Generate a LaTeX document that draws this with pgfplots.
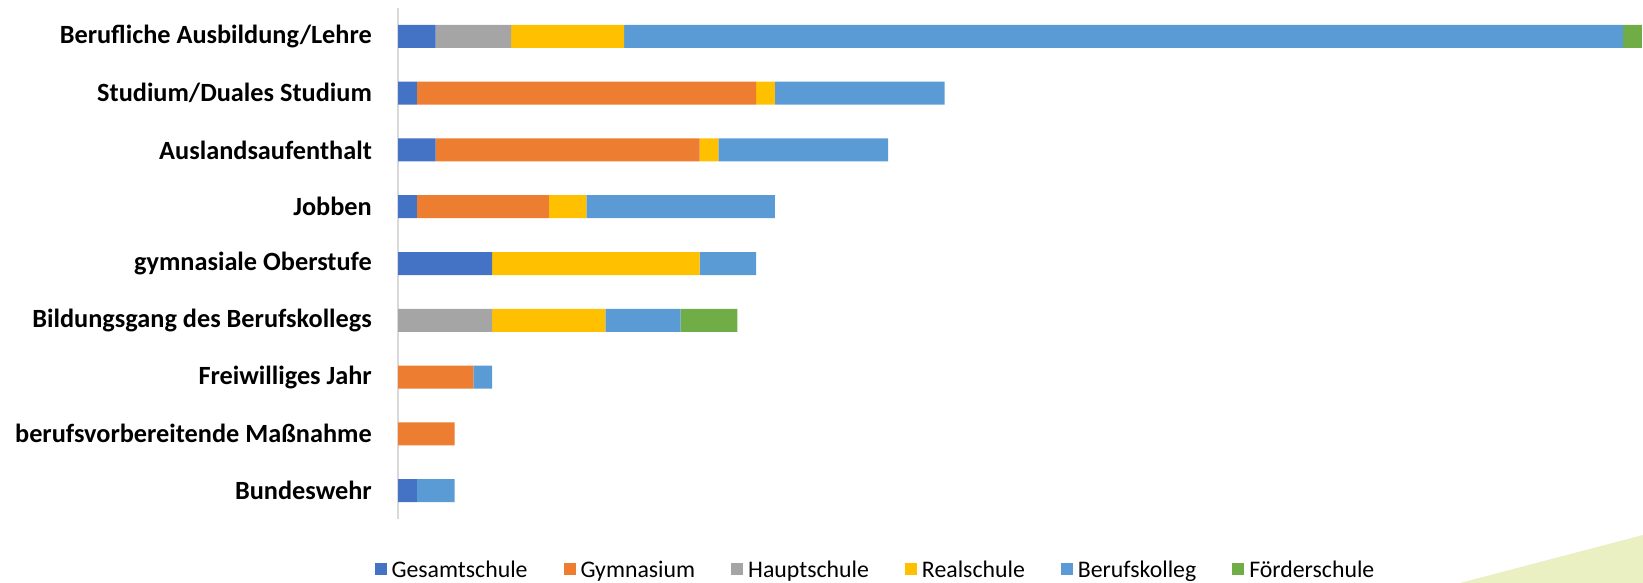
\documentclass[border=0pt]{standalone}
\usepackage{pgfplots}
\pgfplotsset{compat=1.18}
\usepackage{fontspec}
\setmainfont{Carlito}
\definecolor{cGes}{HTML}{4472C4}
\definecolor{cGym}{HTML}{ED7D31}
\definecolor{cHau}{HTML}{A5A5A5}
\definecolor{cRea}{HTML}{FFC000}
\definecolor{cBer}{HTML}{5B9BD5}
\definecolor{cFoe}{HTML}{70AD47}
\definecolor{deco}{HTML}{EBF0C2}
\begin{document}
\begin{tikzpicture}
\path[use as bounding box] (0,0) rectangle (1643pt,583pt);
\fill[deco] (1460pt,0pt) -- (1643pt,48pt) -- (1643pt,0pt) -- cycle;
\begin{axis}[
  at={(398pt,64pt)}, anchor=south west,
  scale only axis, width=1244pt, height=511pt,
  xbar stacked, bar width=23pt,
  xmin=0, xmax=66, ymin=-0.5, ymax=8.5,
  y dir=reverse,
  axis lines*=left,
  x axis line style={draw=none},
  y axis line style={draw={rgb,255:red,217;green,217;blue,217}, line width=1.2pt, -},
  xtick=\empty,
  ytick={0,...,8},
  yticklabels={Berufliche Ausbildung/Lehre,Studium/Duales Studium,Auslandsaufenthalt,Jobben,gymnasiale Oberstufe,Bildungsgang des Berufskollegs,Freiwilliges Jahr,berufsvorbereitende Maßnahme,Bundeswehr},
  major tick length=0pt,
  yticklabel style={font=\fontsize{26.3}{30}\selectfont\bfseries, anchor=east, inner sep=0pt, xshift=-26pt},
  legend columns=6,
  legend style={at={(0.383,-0.100)}, anchor=center, draw=none, fill=none,
    font=\fontsize{23.8}{28}\selectfont, inner sep=0pt,
    nodes={inner sep=0pt},
    /tikz/every odd column/.append style={column sep=5pt},
    /tikz/every even column/.append style={column sep=36pt}},
  legend image code/.code={\fill[#1] (0pt,-5pt) rectangle (12pt,7pt);},
  legend cell align=left,
]
\addplot[fill=cGes, draw=none] coordinates {(2,0) (1,1) (2,2) (1,3) (5,4) (0,5) (0,6) (0,7) (1,8)};
\addplot[fill=cGym, draw=none] coordinates {(0,0) (18,1) (14,2) (7,3) (0,4) (0,5) (4,6) (3,7) (0,8)};
\addplot[fill=cHau, draw=none] coordinates {(4,0) (0,1) (0,2) (0,3) (0,4) (5,5) (0,6) (0,7) (0,8)};
\addplot[fill=cRea, draw=none] coordinates {(6,0) (1,1) (1,2) (2,3) (11,4) (6,5) (0,6) (0,7) (0,8)};
\addplot[fill=cBer, draw=none] coordinates {(53,0) (9,1) (9,2) (10,3) (3,4) (4,5) (1,6) (0,7) (2,8)};
\addplot[fill=cFoe, draw=none] coordinates {(1,0) (0,1) (0,2) (0,3) (0,4) (3,5) (0,6) (0,7) (0,8)};
\legend{Gesamtschule,Gymnasium,Hauptschule,Realschule,Berufskolleg,Förderschule}
\end{axis}
\end{tikzpicture}
\end{document}
